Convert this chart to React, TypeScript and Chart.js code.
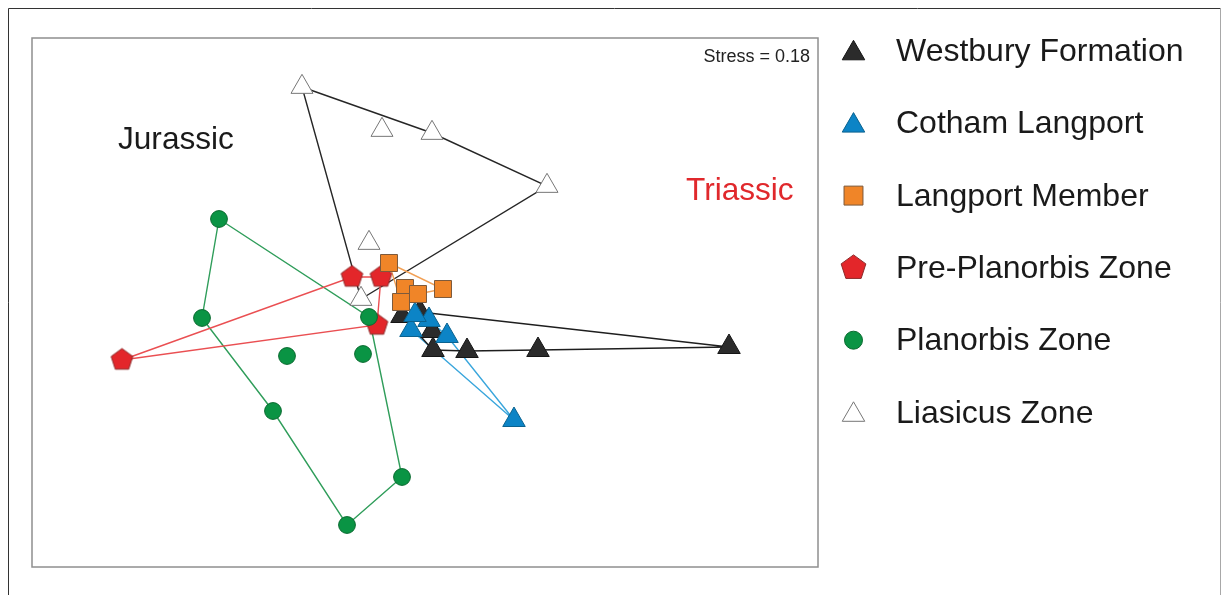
import React, { useEffect, useRef } from "react";
import { Chart, registerables } from "chart.js";

Chart.register(...registerables);

// NMDS ordination scores (axis 1, axis 2)
const westburyX = [3.04, 1.13, 0.42, 0.08, 0.07, -0.23, -0.05];
const westburyY = [-0.45, -0.48, -0.49, -0.48, -0.29, -0.14, -0.1];
const westburyHull = [5, 6, 0, 1, 2, 3];

const cothamX = [0.89, 0.22, 0.04, -0.14, -0.1];
const cothamY = [-1.18, -0.34, -0.18, -0.28, -0.13];
const cothamHull = [0, 3, 4, 2, 1];

const langportX = [-0.36, -0.2, 0.18, -0.07, -0.24];
const langportY = [0.39, 0.14, 0.13, 0.08, 0.0];
const langportHull = [0, 2, 3, 4];

const prePlanorbisX = [-3.03, -0.73, -0.44, -0.48];
const prePlanorbisY = [-0.58, 0.25, 0.25, -0.23];
const prePlanorbisHull = [0, 1, 2, 3];

const planorbisX = [-2.06, -2.23, -0.56, -1.38, -0.62, -1.52, -0.23, -0.78];
const planorbisY = [0.83, -0.16, -0.15, -0.54, -0.52, -1.09, -1.75, -2.23];
const planorbisHull = [0, 2, 6, 7, 5, 1];

const liasicusX = [-1.23, -0.43, 0.07, 1.22, -0.56, -0.64];
const liasicusY = [2.15, 1.72, 1.69, 1.16, 0.59, 0.03];
const liasicusHull = [0, 2, 3, 5];

const groupNames = [
  "Westbury Formation",
  "Cotham Langport",
  "Langport Member",
  "Pre-Planorbis Zone",
  "Planorbis Zone",
  "Liasicus Zone",
];
const stressLabel = "Stress = 0.18";
const jurassicLabel = "Jurassic";
const triassicLabel = "Triassic";

const xRange = [-3.93, 3.93];
const yRange = [-2.65, 2.64];

const FONT = '"Liberation Sans", Arial, Helvetica, sans-serif';

type Style = {
  fill: string;
  stroke: string;
  line: string;
  shape: "triangle" | "rect" | "pentagon" | "circle";
  r: number;
  legendR: number;
  order: number;
};

const styles: Style[] = [
  { fill: "#2b2b2b", stroke: "#151515", line: "#1e1e1e", shape: "triangle", r: 13, legendR: 13, order: 2 },
  { fill: "#0c84c6", stroke: "#0a628f", line: "#3aa6dc", shape: "triangle", r: 13, legendR: 13, order: 1 },
  { fill: "#f08528", stroke: "#7d5a3c", line: "#f2a055", shape: "rect", r: 12, legendR: 13.4, order: 0 },
  { fill: "#e3262a", stroke: "#8c2a2a", line: "#ea4f52", shape: "pentagon", r: 11.4, legendR: 13, order: 5 },
  { fill: "#0a9444", stroke: "#0a6a30", line: "#2f9d5a", shape: "circle", r: 8.4, legendR: 9, order: 4 },
  { fill: "#ffffff", stroke: "#767676", line: "#262626", shape: "triangle", r: 12.7, legendR: 13, order: 3 },
];

function makePentagon(R: number, fill: string, stroke: string): HTMLCanvasElement {
  const size = Math.ceil(2 * R + 4);
  const c = document.createElement("canvas");
  c.width = size;
  c.height = size;
  const ctx = c.getContext("2d")!;
  const cx = size / 2;
  const cy = size / 2;
  ctx.beginPath();
  for (let k = 0; k < 5; k++) {
    const a = -Math.PI / 2 + (k * 2 * Math.PI) / 5;
    const px = cx + R * Math.cos(a);
    const py = cy + R * Math.sin(a);
    if (k === 0) ctx.moveTo(px, py);
    else ctx.lineTo(px, py);
  }
  ctx.closePath();
  ctx.fillStyle = fill;
  ctx.fill();
  ctx.lineWidth = 1;
  ctx.strokeStyle = stroke;
  ctx.stroke();
  return c;
}

function drawShape(ctx: CanvasRenderingContext2D, st: Style, x: number, y: number, r: number) {
  ctx.save();
  ctx.beginPath();
  if (st.shape === "triangle") {
    ctx.moveTo(x, y - r);
    ctx.lineTo(x + 0.866 * r, y + 0.5 * r);
    ctx.lineTo(x - 0.866 * r, y + 0.5 * r);
    ctx.closePath();
  } else if (st.shape === "rect") {
    const h = r * Math.SQRT1_2;
    ctx.rect(x - h, y - h, 2 * h, 2 * h);
  } else if (st.shape === "circle") {
    ctx.arc(x, y, r, 0, Math.PI * 2);
  } else {
    for (let k = 0; k < 5; k++) {
      const a = -Math.PI / 2 + (k * 2 * Math.PI) / 5;
      const px = x + r * Math.cos(a);
      const py = y + r * Math.sin(a);
      if (k === 0) ctx.moveTo(px, py);
      else ctx.lineTo(px, py);
    }
    ctx.closePath();
  }
  ctx.fillStyle = st.fill;
  ctx.fill();
  ctx.lineWidth = 1;
  ctx.strokeStyle = st.stroke;
  ctx.stroke();
  ctx.restore();
}

export default function App() {
  const canvasRef = useRef<HTMLCanvasElement | null>(null);

  useEffect(() => {
    document.documentElement.style.overflow = "hidden";
    document.body.style.overflow = "hidden";
    const canvas = canvasRef.current;
    if (!canvas) return;

    const groupsX = [westburyX, cothamX, langportX, prePlanorbisX, planorbisX, liasicusX];
    const groupsY = [westburyY, cothamY, langportY, prePlanorbisY, planorbisY, liasicusY];
    const hulls = [westburyHull, cothamHull, langportHull, prePlanorbisHull, planorbisHull, liasicusHull];

    const pentagon = makePentagon(styles[3].r, styles[3].fill, styles[3].stroke);

    const datasets: any[] = [];
    groupNames.forEach((name, g) => {
      const st = styles[g];
      datasets.push({
        type: "scatter",
        label: name,
        data: groupsX[g].map((x, i) => ({ x, y: groupsY[g][i] })),
        pointStyle: st.shape === "pentagon" ? pentagon : st.shape,
        pointRadius: st.r,
        pointHoverRadius: st.r,
        backgroundColor: st.fill,
        borderColor: st.stroke,
        pointBorderWidth: 1,
        showLine: false,
        order: st.order,
      });
    });
    groupNames.forEach((name, g) => {
      const st = styles[g];
      const idx = hulls[g].concat([hulls[g][0]]);
      datasets.push({
        type: "scatter",
        label: name + " hull",
        data: idx.map((i) => ({ x: groupsX[g][i], y: groupsY[g][i] })),
        showLine: true,
        pointRadius: 0,
        pointHoverRadius: 0,
        borderColor: st.line,
        borderWidth: 1.4,
        tension: 0,
        fill: false,
        order: 20 + g,
      });
    });

    const decor = {
      id: "decor",
      afterDraw(chart: any) {
        const ctx: CanvasRenderingContext2D = chart.ctx;
        const { left, top, right, bottom } = chart.chartArea;
        ctx.save();
        // outer frame
        ctx.lineWidth = 1;
        ctx.strokeStyle = "#333";
        ctx.beginPath();
        ctx.moveTo(8.5, 600);
        ctx.lineTo(8.5, 8.5);
        ctx.lineTo(1220.5, 8.5);
        ctx.stroke();
        ctx.strokeStyle = "#a8a8a8";
        ctx.beginPath();
        ctx.moveTo(1220.5, 8.5);
        ctx.lineTo(1220.5, 600);
        ctx.stroke();
        // plot box
        ctx.lineWidth = 1.5;
        ctx.strokeStyle = "#8f8f8f";
        ctx.strokeRect(left, top, right - left, bottom - top);

        // texts
        ctx.textBaseline = "alphabetic";
        ctx.fillStyle = "#222";
        ctx.font = `18px ${FONT}`;
        ctx.textAlign = "right";
        ctx.fillText(stressLabel, right - 8, 62);
        ctx.textAlign = "left";
        ctx.font = `31.6px ${FONT}`;
        ctx.fillStyle = "#1a1a1a";
        ctx.fillText(jurassicLabel, 118, 149);
        ctx.fillStyle = "#e0282c";
        ctx.fillText(triassicLabel, 686, 200);

        // legend
        ctx.font = `32px ${FONT}`;
        groupNames.forEach((name, g) => {
          const st = styles[g];
          const base = 61 + g * 72.3;
          let cy = base - 10;
          if (st.shape === "triangle") cy = base - 7.7;
          drawShape(ctx, st, 853.5, cy, st.legendR);
          ctx.fillStyle = "#1a1a1a";
          ctx.fillText(name, 896, base);
        });
        ctx.restore();
      },
    };

    const chart = new Chart(canvas, {
      type: "scatter",
      data: { datasets },
      options: {
        responsive: false,
        animation: false,
        events: [],
        layout: { padding: { left: 32, top: 38, right: 411, bottom: 28 } },
        scales: {
          x: { type: "linear", min: xRange[0], max: xRange[1], display: false },
          y: { type: "linear", min: yRange[0], max: yRange[1], display: false },
        },
        plugins: {
          legend: { display: false },
          tooltip: { enabled: false },
          title: { display: false },
        },
      },
      plugins: [decor],
    });

    return () => chart.destroy();
  }, []);

  return (
    <div style={{ position: "fixed", left: 0, top: 0, width: 1229, height: 595, background: "#fff" }}>
      <canvas ref={canvasRef} width={1229} height={595} style={{ display: "block" }} />
    </div>
  );
}
